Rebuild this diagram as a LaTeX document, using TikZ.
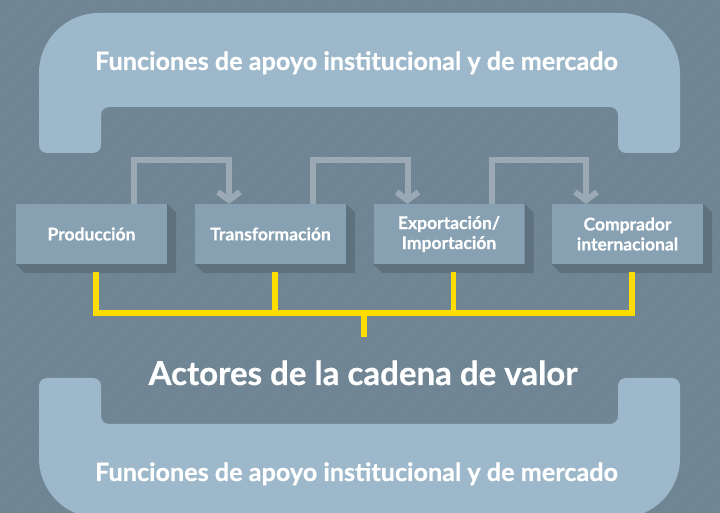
\documentclass[tikz,border=0pt]{standalone}
\usepackage{fontspec}
\setmainfont{Lato}[BoldFont={Lato Bold}, BoldFeatures={FakeBold=0.6}]
\usepackage{xcolor}
\usepackage{tikz}
\usetikzlibrary{arrows.meta}

\definecolor{bgslate}{HTML}{6F8594}
\definecolor{bracketblue}{HTML}{9DB8CA}
\definecolor{boxblue}{HTML}{87A1B3}
\definecolor{boxshade}{HTML}{5E727E}
\definecolor{flowgray}{HTML}{9AA9B4}
\definecolor{actoryellow}{HTML}{FFDD00}

\tikzset{
  pics/bracket/.style={code={
    \fill[bracketblue] (39,368) -- (39,440) arc[start angle=180, end angle=90, radius=60]
      -- (620,500) arc[start angle=90, end angle=0, radius=60]
      -- (680,368) arc[start angle=0, end angle=-90, radius=8]
      -- (626,360) arc[start angle=270, end angle=180, radius=8]
      -- (618,398) arc[start angle=0, end angle=90, radius=8]
      -- (109,406) arc[start angle=90, end angle=180, radius=8]
      -- (101,368) arc[start angle=0, end angle=-90, radius=8]
      -- (47,360) arc[start angle=270, end angle=180, radius=8] -- cycle;
  }},
  box/.style={minimum width=151pt, minimum height=60pt, inner sep=0pt, fill=boxblue,
    text=white, align=center, font=\bfseries\fontsize{17.5}{20}\selectfont},
  bracketlabel/.style={anchor=base, text=white, font=\bfseries\fontsize{25.2}{30}\selectfont},
  flow/.style={draw=flowgray, line width=6pt, -{Straight Barb[length=8pt, width=22pt]}},
  actor/.style={draw=actoryellow, line width=5.5pt}
}

\begin{document}
\begin{tikzpicture}[x=1pt, y=1pt]
  \useasboundingbox (0,0) rectangle (720,513);
  \fill[bgslate] (0,0) rectangle (720,513);
  % faint stripes in the background
  \begin{scope}
    \clip (0,0) rectangle (720,513);
    \foreach \s in {-520,-496,...,720}
      \fill[white, opacity=0.015] (\s,0) -- ++(12,0) -- ++(513,513) -- ++(-12,0) -- cycle;
  \end{scope}

  \pic at (0,0) {bracket};
  \pic[yscale=-1] at (0,495) {bracket};
  \node[bracketlabel] (apoyotop) at (356.5,443) {Funciones de apoyo institucional y de mercado};
  \node[bracketlabel] (apoyobot) at (356.5,32) {Funciones de apoyo institucional y de mercado};

  \node[box] (prod) at (91.5,279) {Producción};
  \node[box] (trans) at (270.5,279) {Transformación};
  \node[box] (expo) at (449,279) {Exportación/\\Importación};
  \node[box] (comp) at (627.5,279) {Comprador\\internacional};

  \foreach \n in {prod,trans,expo,comp}
    \fill[boxshade] (\n.south west) -- ++(9,-9) -- ([shift={(9,-9)}]\n.south east)
      -- ([shift={(9,-9)}]\n.north east) -- (\n.north east) -- (\n.south east) -- cycle;

  \draw[flow] ([xshift=42.5pt]prod.north) -- ++(0,44) -| ([xshift=-41.5pt]trans.north);
  \draw[flow] ([xshift=42.5pt]trans.north) -- ++(0,44) -| ([xshift=-41.5pt]expo.north);
  \draw[flow] ([xshift=42.5pt]expo.north) -- ++(0,44) -| ([xshift=-41.5pt]comp.north);

  \coordinate (hub) at (364,200);
  \coordinate (drop) at (364,176);
  \draw[actor] ([shift={(4.5,-8)}]prod.south) |- ([shift={(4.5,-49)}]comp.south)
    -- ([shift={(4.5,-8)}]comp.south);
  \draw[actor] ([shift={(4.5,-8)}]trans.south) -- ++(0,-41);
  \draw[actor] ([shift={(4.5,-8)}]expo.south) -- ++(0,-41);
  \draw[actor] (hub) -- (drop);

  \node[anchor=base, text=white, font=\bfseries\fontsize{33}{38}\selectfont] (actores)
    at (363,128) {Actores de la cadena de valor};
\end{tikzpicture}
\end{document}
